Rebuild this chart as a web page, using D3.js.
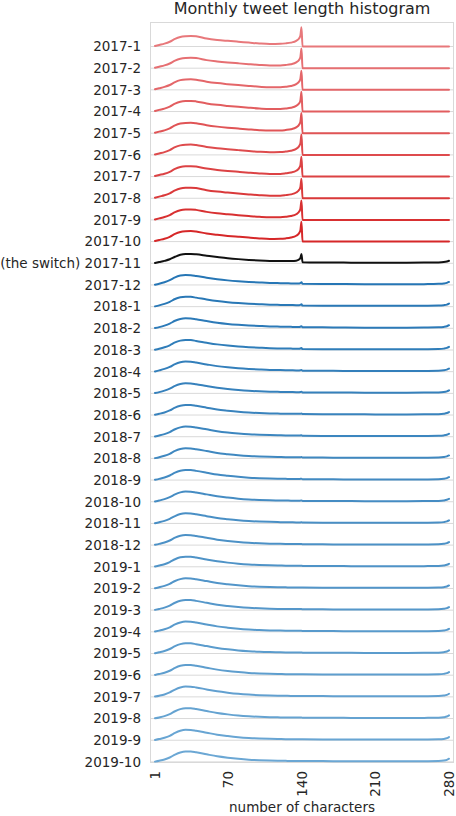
<!DOCTYPE html>
<html>
<head>
<meta charset="utf-8">
<script src="https://cdn.jsdelivr.net/npm/d3@7"></script>
<style>
  html, body { margin: 0; padding: 0; background: #fff; }
  svg { display: block; font-family: "DejaVu Sans", sans-serif; }
</style>
</head>
<body>
<div id="chart"></div>
<script>
// ---------- DATA ----------
const months = ["2017-1","2017-2","2017-3","2017-4","2017-5","2017-6","2017-7","2017-8","2017-9","2017-10",
  "(the switch) 2017-11","2017-12",
  "2018-1","2018-2","2018-3","2018-4","2018-5","2018-6","2018-7","2018-8","2018-9","2018-10","2018-11","2018-12",
  "2019-1","2019-2","2019-3","2019-4","2019-5","2019-6","2019-7","2019-8","2019-9","2019-10"];

// number of characters at which each value is read
const chars = [1,5,10,15,20,25,30,35,40,50,60,70,80,90,100,110,120,125,130,135,138,139,140,141,160,180,200,220,240,260,270,275,278,280];

// share of tweets (per mille) per length
const s2017_1  = [0.6,1.8,3.3,5.5,8.8,11.0,11.9,12.2,11.8,9.2,7.6,6.5,5.5,4.5,3.5,2.9,3.1,3.6,4.5,6.5,9.8,12.7,22.3,0,0,0,0,0,0,0,0,0,0,0];
const s2017_2  = [0.5,1.7,3.2,5.4,8.7,10.9,11.8,12.0,11.6,9.3,7.8,6.6,5.6,4.6,3.7,3.1,3.2,3.7,4.6,6.7,10.1,13.0,22.6,0,0,0,0,0,0,0,0,0,0,0];
const s2017_3  = [0.6,1.8,3.4,5.6,9.0,11.2,12.0,12.1,11.7,9.4,7.8,6.6,5.5,4.5,3.6,3.0,3.1,3.6,4.5,6.6,9.9,12.8,22.1,0,0,0,0,0,0,0,0,0,0,0];
const s2017_4  = [0.6,1.9,3.4,5.7,9.1,11.3,12.1,12.2,11.7,9.3,7.7,6.5,5.4,4.4,3.5,2.9,3.0,3.5,4.4,6.5,9.8,12.9,22.8,0,0,0,0,0,0,0,0,0,0,0];
const s2017_5  = [0.5,1.8,3.3,5.6,9.0,11.1,11.9,12.0,11.5,9.2,7.6,6.4,5.4,4.4,3.5,3.0,3.1,3.7,4.6,6.8,10.3,13.4,23.3,0,0,0,0,0,0,0,0,0,0,0];
const s2017_6  = [0.5,1.7,3.2,5.5,8.9,11.0,11.8,11.9,11.4,9.1,7.6,6.5,5.5,4.5,3.6,3.1,3.2,3.8,4.7,6.9,10.5,13.6,23.6,0,0,0,0,0,0,0,0,0,0,0];
const s2017_7  = [0.6,1.8,3.3,5.5,8.9,11.1,11.9,12.0,11.5,9.2,7.7,6.5,5.5,4.5,3.6,3.0,3.1,3.7,4.6,6.7,10.2,13.2,22.9,0,0,0,0,0,0,0,0,0,0,0];
const s2017_8  = [0.6,1.9,3.4,5.7,9.1,11.3,12.1,12.2,11.7,9.3,7.7,6.5,5.4,4.4,3.5,2.9,3.0,3.6,4.5,6.6,10.0,13.0,22.5,0,0,0,0,0,0,0,0,0,0,0];
const s2017_9  = [0.6,1.8,3.3,5.6,9.0,11.2,12.0,12.1,11.6,9.3,7.7,6.6,5.5,4.5,3.6,3.0,3.1,3.6,4.5,6.6,10.0,12.9,22.4,0,0,0,0,0,0,0,0,0,0,0];
const s2017_10 = [0.6,1.8,3.3,5.5,8.9,11.1,11.9,12.1,11.6,9.3,7.8,6.6,5.6,4.6,3.7,3.1,3.2,3.7,4.7,6.8,10.3,13.3,23.0,0,0,0,0,0,0,0,0,0,0,0];
const s2017_11 = [0.3,1.4,2.8,4.6,7.5,9.8,10.7,10.7,10.3,8.8,7.3,5.9,4.8,3.9,3.2,2.7,2.5,2.5,2.6,3.0,4.6,6.3,10.6,1.2,0.9,0.8,0.7,0.7,0.7,0.8,1.0,1.4,2.1,2.9];
const s2017_12 = [0.3,1.5,3.2,5.5,8.8,10.8,11.5,11.3,10.4,8.3,6.6,5.3,4.3,3.5,2.9,2.4,2.1,2.0,1.8,1.7,1.8,2.3,3.1,1.3,1.2,1.0,0.9,0.9,0.9,1.0,1.3,1.7,2.4,3.5];
const s2018_1  = [0.3,1.5,3.2,5.5,8.8,10.8,11.5,11.3,10.4,8.3,6.5,5.2,4.2,3.4,2.8,2.3,2.0,1.9,1.8,1.7,1.7,2.1,2.7,1.2,1.1,1.0,0.9,0.9,0.9,1.0,1.2,1.7,2.4,3.6];
const s2018_2  = [0.3,1.4,3.1,5.4,8.7,10.8,11.6,11.4,10.5,8.4,6.5,5.1,4.1,3.3,2.7,2.2,1.9,1.8,1.7,1.6,1.6,1.9,2.4,1.2,1.1,0.9,0.8,0.8,0.8,0.9,1.1,1.6,2.4,3.6];
const s2018_3  = [0.3,1.4,3.1,5.4,8.7,10.8,11.6,11.4,10.5,8.4,6.5,5.1,4.0,3.2,2.6,2.1,1.8,1.7,1.6,1.5,1.5,1.8,2.2,1.1,1.0,0.9,0.8,0.8,0.8,0.9,1.1,1.6,2.4,3.6];
const s2018_4  = [0.3,1.5,3.2,5.5,8.8,10.9,11.6,11.4,10.5,8.4,6.4,5.0,3.9,3.1,2.5,2.0,1.8,1.7,1.6,1.5,1.5,1.7,2.0,1.1,1.0,0.9,0.8,0.8,0.8,0.9,1.1,1.6,2.4,3.5];
const s2018_5  = [0.3,1.4,3.1,5.4,8.7,10.8,11.6,11.4,10.5,8.4,6.4,5.0,3.9,3.0,2.4,2.0,1.7,1.6,1.5,1.4,1.4,1.6,1.9,1.1,1.0,0.9,0.8,0.8,0.8,0.9,1.1,1.5,2.3,3.5];
const s2018_6  = [0.3,1.4,3.0,5.3,8.6,10.7,11.6,11.5,10.6,8.5,6.4,5.0,3.8,2.9,2.3,1.9,1.6,1.5,1.4,1.4,1.4,1.5,1.8,1.1,1.0,0.8,0.8,0.7,0.7,0.8,1.0,1.5,2.3,3.5];
const s2018_7  = [0.3,1.4,3.0,5.3,8.6,10.8,11.7,11.5,10.6,8.5,6.4,4.9,3.8,2.9,2.3,1.9,1.6,1.5,1.4,1.3,1.3,1.5,1.7,1.0,0.9,0.8,0.7,0.7,0.7,0.8,1.0,1.5,2.3,3.4];
const s2018_8  = [0.3,1.4,3.0,5.3,8.6,10.8,11.7,11.5,10.6,8.5,6.3,4.9,3.7,2.8,2.2,1.8,1.5,1.4,1.3,1.3,1.3,1.4,1.6,1.0,0.9,0.8,0.7,0.7,0.7,0.8,1.0,1.5,2.3,3.4];
const s2018_9  = [0.3,1.4,3.0,5.3,8.5,10.7,11.6,11.5,10.6,8.5,6.3,4.9,3.7,2.8,2.2,1.8,1.5,1.4,1.3,1.3,1.3,1.4,1.5,1.0,0.9,0.8,0.7,0.7,0.7,0.8,1.0,1.5,2.3,3.4];
const s2018_10 = [0.3,1.4,3.0,5.3,8.5,10.8,11.7,11.6,10.7,8.5,6.3,4.8,3.6,2.7,2.1,1.7,1.5,1.4,1.3,1.2,1.2,1.3,1.4,1.0,0.9,0.8,0.7,0.7,0.7,0.8,1.0,1.5,2.3,3.4];
const s2018_11 = [0.3,1.4,3.0,5.3,8.5,10.8,11.6,11.4,10.5,8.4,6.3,4.9,3.7,2.8,2.2,1.8,1.5,1.4,1.3,1.2,1.2,1.2,1.3,1.0,0.9,0.8,0.7,0.7,0.7,0.8,1.0,1.5,2.3,3.5];
const s2018_12 = [0.3,1.4,3.0,5.3,8.6,10.9,11.7,11.5,10.6,8.4,6.3,4.8,3.6,2.7,2.1,1.7,1.5,1.4,1.3,1.2,1.2,1.2,1.3,1.0,0.9,0.8,0.7,0.7,0.7,0.8,1.0,1.5,2.3,3.5];
const s2019_1  = [0.3,1.4,3.0,5.4,8.7,10.9,11.7,11.5,10.6,8.4,6.3,4.8,3.6,2.7,2.1,1.7,1.4,1.3,1.3,1.2,1.2,1.2,1.2,1.0,0.9,0.8,0.7,0.7,0.7,0.8,1.0,1.5,2.3,3.5];
const s2019_2  = [0.3,1.4,3.0,5.3,8.6,10.8,11.7,11.6,10.7,8.5,6.3,4.8,3.6,2.7,2.1,1.7,1.4,1.3,1.2,1.2,1.2,1.2,1.2,1.0,0.9,0.8,0.7,0.7,0.7,0.8,1.0,1.5,2.3,3.5];
const s2019_3  = [0.3,1.4,2.9,5.2,8.5,10.8,11.7,11.6,10.7,8.5,6.3,4.8,3.6,2.7,2.1,1.7,1.4,1.3,1.2,1.2,1.2,1.2,1.2,1.0,0.9,0.8,0.7,0.7,0.7,0.8,1.0,1.5,2.3,3.5];
const s2019_4  = [0.3,1.4,2.9,5.2,8.5,10.8,11.8,11.7,10.8,8.5,6.3,4.8,3.6,2.7,2.0,1.6,1.4,1.3,1.2,1.1,1.1,1.1,1.1,1.0,0.9,0.8,0.7,0.7,0.7,0.8,1.0,1.5,2.3,3.5];
const s2019_5  = [0.3,1.4,2.9,5.2,8.5,10.8,11.8,11.7,10.8,8.6,6.4,4.8,3.6,2.7,2.0,1.6,1.4,1.3,1.2,1.1,1.1,1.1,1.1,1.0,0.9,0.8,0.7,0.7,0.7,0.8,1.0,1.5,2.3,3.6];
const s2019_6  = [0.3,1.3,2.8,5.1,8.4,10.8,11.8,11.7,10.8,8.6,6.4,4.8,3.6,2.6,2.0,1.6,1.3,1.2,1.2,1.1,1.1,1.1,1.1,1.0,0.9,0.8,0.7,0.7,0.7,0.8,1.0,1.5,2.3,3.6];
const s2019_7  = [0.3,1.3,2.8,5.1,8.4,10.8,11.9,11.8,10.9,8.6,6.4,4.8,3.5,2.6,2.0,1.6,1.3,1.2,1.1,1.1,1.1,1.1,1.1,1.0,0.9,0.8,0.7,0.7,0.7,0.8,1.0,1.5,2.3,3.6];
const s2019_8  = [0.3,1.3,2.8,5.1,8.4,10.9,11.9,11.8,10.9,8.6,6.4,4.8,3.5,2.6,2.0,1.6,1.3,1.2,1.1,1.1,1.1,1.1,1.1,1.0,0.9,0.8,0.7,0.7,0.7,0.8,1.0,1.5,2.3,3.6];
const s2019_9  = [0.3,1.3,2.8,5.1,8.4,10.9,12.0,11.9,11.0,8.7,6.4,4.8,3.5,2.6,2.0,1.6,1.3,1.2,1.1,1.1,1.1,1.1,1.1,1.0,0.9,0.8,0.7,0.7,0.7,0.8,1.0,1.5,2.4,3.7];
const s2019_10 = [0.3,1.3,2.8,5.1,8.4,10.9,12.0,11.9,11.0,8.7,6.5,4.9,3.6,2.6,2.0,1.6,1.3,1.2,1.1,1.1,1.1,1.1,1.1,1.0,0.9,0.8,0.7,0.7,0.7,0.8,1.0,1.5,2.4,3.7];

const series = [s2017_1,s2017_2,s2017_3,s2017_4,s2017_5,s2017_6,s2017_7,s2017_8,s2017_9,s2017_10,
  s2017_11,s2017_12,
  s2018_1,s2018_2,s2018_3,s2018_4,s2018_5,s2018_6,s2018_7,s2018_8,s2018_9,s2018_10,s2018_11,s2018_12,
  s2019_1,s2019_2,s2019_3,s2019_4,s2019_5,s2019_6,s2019_7,s2019_8,s2019_9,s2019_10];

const xTicks = [1, 70, 140, 210, 280];
const titleText = "Monthly tweet length histogram";
const xLabelText = "number of characters";

// ---------- LAYOUT ----------
const W = 456, H = 816;
const frame = { left: 150, right: 454, top: 22, bottom: 762 };
const textColor = "#262626";
const gridColor = "#d9d9d9";
const labelSize = 13.5;

const svg = d3.select("#chart").append("svg").attr("width", W).attr("height", H);

const x = d3.scaleLinear().domain([1, 280]).range([155, 449]);
const yRow = d3.scalePoint().domain(months).range([46.5, 761.9]);
const yVal = d3.scaleLinear().domain([0, 25]).range([0, 21.68]);

const redColor = d3.interpolateRgb("#e8787b", "#d62728");
const blueColor = d3.interpolateRgb("#2676b5", "#6ba7d4");
function colorFor(i) {
  if (i < 10) return redColor(i / 9);
  if (i === 10) return "#111111";
  return blueColor((i - 11) / (months.length - 12));
}

// gridlines
svg.append("g").selectAll("line").data(months).join("line")
  .attr("x1", frame.left).attr("x2", frame.right)
  .attr("y1", d => yRow(d)).attr("y2", d => yRow(d))
  .attr("stroke", gridColor).attr("stroke-width", 1);

// frame
svg.append("rect")
  .attr("x", frame.left + 0.5).attr("y", frame.top + 0.5)
  .attr("width", frame.right - frame.left - 1).attr("height", frame.bottom - frame.top)
  .attr("fill", "none").attr("stroke", gridColor).attr("stroke-width", 1);

// lines
const line = d3.line().curve(d3.curveMonotoneX);
const gLines = svg.append("g");
series.forEach((vals, i) => {
  const base = yRow(months[i]);
  const pts = chars.map((c, j) => [x(c), base - yVal(vals[j])]);
  gLines.append("path")
    .attr("d", line(pts))
    .attr("fill", "none")
    .attr("stroke", colorFor(i))
    .attr("stroke-width", 2)
    .attr("stroke-linejoin", "round")
    .attr("stroke-linecap", "round");
});

// y axis (row labels)
const yAxis = d3.axisLeft(yRow).tickSize(0).tickPadding(9);
const gy = svg.append("g").attr("transform", `translate(${frame.left},0)`).call(yAxis);
gy.select(".domain").remove();
gy.selectAll("text").attr("font-size", labelSize).attr("fill", textColor)
  .attr("font-family", "DejaVu Sans, sans-serif");

// x axis
const xAxis = d3.axisBottom(x).tickValues(xTicks).tickSize(0).tickFormat(d3.format("d"));
const gx = svg.append("g").attr("transform", `translate(0,${frame.bottom})`).call(xAxis);
gx.select(".domain").remove();
gx.selectAll("text")
  .attr("font-size", labelSize).attr("fill", textColor)
  .attr("font-family", "DejaVu Sans, sans-serif")
  .attr("transform", "rotate(-90)")
  .attr("text-anchor", "end")
  .attr("dy", "0.35em")
  .attr("x", -9).attr("y", 0);

// title
svg.append("text")
  .attr("x", (frame.left + frame.right) / 2).attr("y", 14)
  .attr("text-anchor", "middle")
  .attr("font-size", 16).attr("fill", textColor)
  .text(titleText);

// x label
svg.append("text")
  .attr("x", (frame.left + frame.right) / 2).attr("y", 812)
  .attr("text-anchor", "middle")
  .attr("font-size", labelSize).attr("fill", textColor)
  .text(xLabelText);
</script>
</body>
</html>
